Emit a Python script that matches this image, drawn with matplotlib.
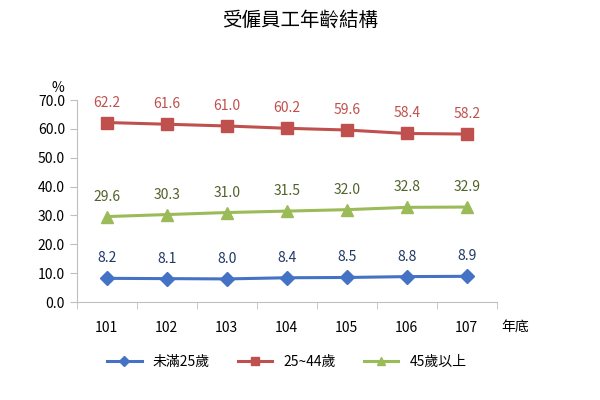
import matplotlib
matplotlib.use("Agg")
import matplotlib.pyplot as plt

plt.rcParams['font.family'] = ['Noto Sans CJK TC', 'DejaVu Sans']

years = ["101", "102", "103", "104", "105", "106", "107"]
under25 = [8.2, 8.1, 8.0, 8.4, 8.5, 8.8, 8.9]
age25_44 = [62.2, 61.6, 61.0, 60.2, 59.6, 58.4, 58.2]
over45 = [29.6, 30.3, 31.0, 31.5, 32.0, 32.8, 32.9]
names = ["未滿25歲", "25~44歲", "45歲以上"]

fig = plt.figure(figsize=(6, 4), dpi=100)
ax = fig.add_axes([0.128, 0.245, 0.70, 0.505])
x = list(range(len(years)))

series = [
    (under25, "#4472C4", "D", 7, "#1F3864"),
    (age25_44, "#C0504D", "s", 9, "#C0504D"),
    (over45, "#9BBB59", "^", 9, "#4F6228"),
]
for (vals, col, mk, ms, tcol), name in zip(series, names):
    ax.plot(x, vals, color=col, marker=mk, markersize=ms, linewidth=2.2, label=name)
    for xi, v in zip(x, vals):
        ax.text(xi, v + 4.5, f"{v:.1f}", ha="center", va="bottom", fontsize=10, color=tcol)

ax.set_xlim(-0.5, len(years) - 0.5)
ax.set_ylim(0, 70)
ax.set_yticks(range(0, 71, 10))
ax.set_yticklabels([f"{v:.1f}" for v in range(0, 71, 10)], fontsize=10)
ax.set_xticks(x)
ax.set_xticklabels(years, fontsize=10)
ax.set_xticks([i - 0.5 for i in range(len(years) + 1)], minor=True)
ax.tick_params(axis="x", which="major", length=0, pad=14)
ax.tick_params(axis="x", which="minor", length=5, color="#BFBFBF")
ax.tick_params(axis="y", length=5, color="#BFBFBF")
for s in ["top", "right"]:
    ax.spines[s].set_visible(False)
for s in ["left", "bottom"]:
    ax.spines[s].set_color("#BFBFBF")

ax.text(-0.06, 1.04, "%", transform=ax.transAxes, fontsize=10)
ax.text(1.01, -0.125, "年底", transform=ax.transAxes, fontsize=10, va="center")
fig.text(0.5, 0.935, "受僱員工年齡結構", ha="center", fontsize=14)
ax.legend(loc="upper center", bbox_to_anchor=(0.5, -0.2), ncol=3, frameon=False,
          fontsize=10, handlelength=2.5, markerscale=0.7)

fig.savefig("out.png", dpi=100)
